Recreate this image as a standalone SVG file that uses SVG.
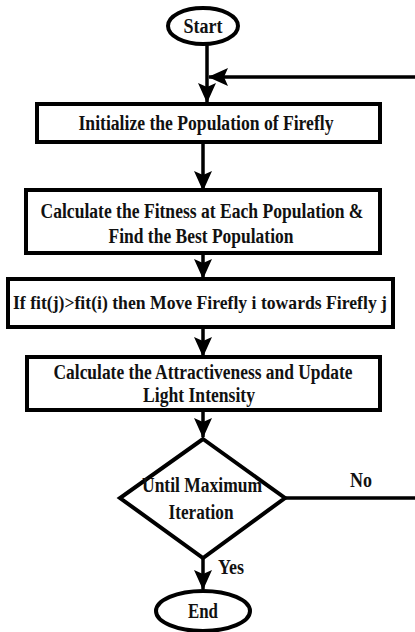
<svg xmlns="http://www.w3.org/2000/svg" width="415" height="632" viewBox="0 0 415 632">
<style>
.shape{fill:#fff;stroke:#000;stroke-width:4}
.conn{fill:none;stroke:#000;stroke-width:3.5}
text{font-family:"Liberation Serif","Times New Roman",serif;font-weight:bold;font-size:20px;fill:#111;text-anchor:middle}
.sm{font-size:20px}
.xs{font-size:19px}
</style>
<defs>
<marker id="ah" markerUnits="userSpaceOnUse" markerWidth="20" markerHeight="20" viewBox="0 0 20 20" refX="19" refY="10" orient="auto">
<path d="M0,1 L20,10 L0,19 L4,10 z" fill="#000"/>
</marker>
</defs>
<rect width="415" height="632" fill="#fff"/>
<g id="connectors">
<path class="conn" d="M207,44 V102" marker-end="url(#ah)"/>
<path class="conn" d="M203,142 V190" marker-end="url(#ah)"/>
<path class="conn" d="M203,253 V278" marker-end="url(#ah)"/>
<path class="conn" d="M203,327 V356" marker-end="url(#ah)"/>
<path class="conn" d="M203,410 V437" marker-end="url(#ah)"/>
<path class="conn" d="M203,558 V589" marker-end="url(#ah)"/>
<path class="conn" d="M285,498 H420 V77 H209" marker-end="url(#ah)"/>
<text class="sm" x="361" y="487" textLength="22" lengthAdjust="spacingAndGlyphs">No</text>
<text class="sm" x="231" y="574" textLength="26" lengthAdjust="spacingAndGlyphs">Yes</text>
</g>
<g id="start">
<ellipse class="shape" cx="203" cy="26" rx="35" ry="18"/>
<text class="sm" x="203" y="33" textLength="39" lengthAdjust="spacingAndGlyphs">Start</text>
</g>
<g id="init">
<rect class="shape" x="37" y="104" width="343" height="38"/>
<text x="206" y="130" textLength="255" lengthAdjust="spacingAndGlyphs">Initialize the Population of Firefly</text>
</g>
<g id="fitness">
<rect class="shape" x="26" y="190" width="354" height="63"/>
<text x="202" y="218" textLength="323" lengthAdjust="spacingAndGlyphs">Calculate the Fitness at Each Population &amp;</text>
<text x="201" y="243" textLength="185" lengthAdjust="spacingAndGlyphs">Find the Best Population</text>
</g>
<g id="move">
<rect class="shape" x="8" y="279" width="385" height="48"/>
<text class="xs" x="200" y="309" textLength="374" lengthAdjust="spacingAndGlyphs">If fit(j)&gt;fit(i) then Move Firefly i towards Firefly j</text>
</g>
<g id="attract">
<rect class="shape" x="27" y="357" width="353" height="53"/>
<text x="203" y="379" textLength="299" lengthAdjust="spacingAndGlyphs">Calculate the Attractiveness and Update</text>
<text x="199" y="402" textLength="112" lengthAdjust="spacingAndGlyphs">Light Intensity</text>
</g>
<g id="decision">
<polygon class="shape" points="203,439 285,498 203,558 120,498"/>
<text class="sm" x="202" y="492" textLength="120" lengthAdjust="spacingAndGlyphs">Until Maximum</text>
<text class="sm" x="201" y="519" textLength="65" lengthAdjust="spacingAndGlyphs">Iteration</text>
</g>
<g id="end">
<ellipse class="shape" cx="203" cy="611" rx="47" ry="20"/>
<text class="sm" x="203" y="618" textLength="30" lengthAdjust="spacingAndGlyphs">End</text>
</g>
</svg>
